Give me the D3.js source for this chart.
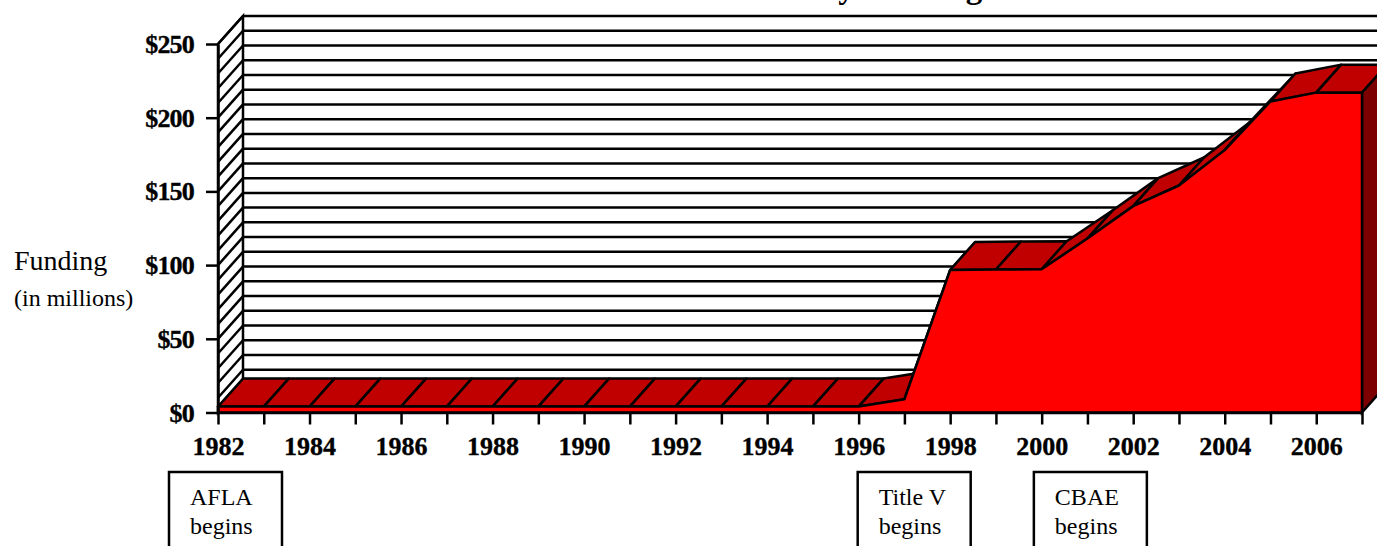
<!DOCTYPE html>
<html>
<head>
<meta charset="utf-8">
<script src="https://cdn.jsdelivr.net/npm/d3@7"></script>
<style>
  html, body { margin: 0; padding: 0; background: #fff; overflow: hidden; }
  svg { display: block; }
  text { font-family: "Liberation Serif", serif; fill: #000; }
  .tick-label { font-weight: bold; font-size: 26px; stroke: #000; stroke-width: 0.35px; }
  .money { letter-spacing: -0.8px; }
</style>
</head>
<body>
<div id="chart"></div>
<script>
// funding per year, in millions of dollars
const years = d3.range(1982, 2008);
const funding = [4, 4, 4, 4, 4, 4, 4, 4, 4, 4, 4, 4, 4, 4, 4, 9, 96.7, 97, 97.2, 118, 140, 154, 178, 211, 217, 217];
const dollarTicks = [0, 50, 100, 150, 200, 250];
const gridValues = d3.range(0, 260, 10);
const yearLabels = d3.range(1982, 2008, 2);
const programs = [
    {year: 1982, name: "AFLA"},
    {year: 1997.05, name: "Title V"},
    {year: 2000.9, name: "CBAE"}
];

const width = 1377;
const height = 546;
const stroke = 2.5;

// depth of the 3d box
const depthX = 25;
const depthY = -28;

const x = d3.scaleLinear().domain([1982, 2007]).range([218, 1362]);
const y = d3.scaleLinear().domain([0, 250]).range([412.5, 44]);

var svg = d3.select("#chart")
    .append("svg")
    .attr("width", width)
    .attr("height", height);

const line = (x1, y1, x2, y2) => svg.append("line")
    .attr("x1", x1).attr("y1", y1)
    .attr("x2", x2).attr("y2", y2)
    .attr("stroke", "#000")
    .attr("stroke-width", stroke);

// Title, cut by the top of the picture
// wording is a guess: the reference only shows the bottoms of a "y" and a "g"
svg.append("text")
    .attr("x", 743)
    .attr("y", -2)
    .attr("text-anchor", "middle")
    .attr("font-size", 33)
    .attr("font-weight", "bold")
    .text("Federal Abstinence-Only Funding");

// Back wall grid lines
gridValues.forEach(function(v) {
    line(x(1982) + depthX, y(v) + depthY, width, y(v) + depthY);
});

// Left wall with hatching
svg.append("polygon")
    .attr("points", [[x(1982), y(0)], [x(1982), y(250)], [x(1982) + depthX, y(250) + depthY], [x(1982) + depthX, y(0) + depthY]].join(" "))
    .attr("fill", "#fff")
    .attr("stroke", "#000")
    .attr("stroke-width", stroke);
gridValues.forEach(function(v) {
    line(x(1982), y(v), x(1982) + depthX, y(v) + depthY);
});

// Top surface of the area, one face per year
years.slice(0, -1).forEach(function(year, i) {
    const a = [x(year), y(funding[i])];
    const b = [x(year + 1), y(funding[i + 1])];
    svg.append("polygon")
        .attr("points", [a, b, [b[0] + depthX, b[1] + depthY], [a[0] + depthX, a[1] + depthY]].join(" "))
        .attr("fill", "#c00000")
        .attr("stroke", "#000")
        .attr("stroke-width", stroke)
        .attr("stroke-linejoin", "round");
});

// Right side of the area
const last = funding[funding.length - 1];
svg.append("polygon")
    .attr("points", [[x(2007), y(0)], [x(2007), y(last)], [x(2007) + depthX, y(last) + depthY], [x(2007) + depthX, y(0) + depthY]].join(" "))
    .attr("fill", "#7c0000")
    .attr("stroke", "#000")
    .attr("stroke-width", stroke);

// Front of the area
const area = d3.area()
    .x(function(d, i) { return x(years[i]); })
    .y0(y(0))
    .y1(function(d) { return y(d); });
svg.append("path")
    .datum(funding)
    .attr("d", area)
    .attr("fill", "#ff0000")
    .attr("stroke", "#000")
    .attr("stroke-width", stroke)
    .attr("stroke-linejoin", "round");

// X axis
const xAxis = svg.append("g")
    .attr("transform", "translate(0," + y(0) + ")")
    .call(d3.axisBottom(x)
        .tickValues(years)
        .tickSize(12)
        .tickSizeOuter(0)
        .tickFormat(function(d) { return yearLabels.includes(d) ? d : ""; }));
xAxis.select(".domain").attr("stroke", "#000").attr("stroke-width", stroke);
xAxis.selectAll("line").attr("stroke", "#000").attr("stroke-width", stroke);
xAxis.selectAll("text")
    .attr("class", "tick-label")
    .attr("y", 42.5)
    .attr("dy", 0);

// Y axis
const yAxis = svg.append("g")
    .attr("transform", "translate(" + x(1982) + ",0)")
    .call(d3.axisLeft(y)
        .tickValues(dollarTicks)
        .tickSize(12)
        .tickSizeOuter(0)
        .tickFormat(function(d) { return "$" + d; }));
yAxis.select(".domain").attr("stroke", "#000").attr("stroke-width", stroke);
yAxis.selectAll("line").attr("stroke", "#000").attr("stroke-width", stroke);
yAxis.selectAll("text")
    .attr("class", "tick-label money")
    .attr("x", -24)
    .attr("dy", "0.33em");

// Y axis label
svg.append("text")
    .attr("x", 14)
    .attr("y", 270)
    .attr("font-size", 28)
    .text("Funding");
svg.append("text")
    .attr("x", 14)
    .attr("y", 306)
    .attr("font-size", 24)
    .text("(in millions)");

// Program start boxes
programs.forEach(function(p) {
    const left = x(p.year) - 49;
    svg.append("rect")
        .attr("x", left)
        .attr("y", 472)
        .attr("width", 113)
        .attr("height", 90)
        .attr("fill", "#fff")
        .attr("stroke", "#000")
        .attr("stroke-width", stroke);
    svg.append("text")
        .attr("x", left + 21)
        .attr("y", 505)
        .attr("font-size", 24)
        .text(p.name);
    svg.append("text")
        .attr("x", left + 21)
        .attr("y", 534)
        .attr("font-size", 24)
        .text("begins");
});
</script>
</body>
</html>
